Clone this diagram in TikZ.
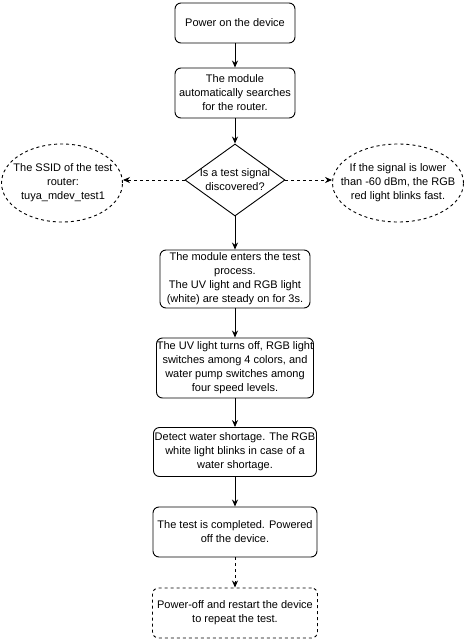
\documentclass[tikz,border=0pt]{standalone}
\usepackage{fontspec}
\setmainfont{Liberation Sans}
\usetikzlibrary{shapes.geometric,arrows.meta}
\begin{document}
\begin{tikzpicture}[x=1pt,y=-1pt,
  every node/.style={font=\fontsize{11}{14}\selectfont, align=center, inner sep=0pt},
  procbox/.style={draw, rounded corners=6pt, line width=0.9pt},
  dashbox/.style={draw, rounded corners=6pt, line width=0.9pt, dashed},
  note/.style={draw, ellipse, dashed, line width=0.9pt, minimum height=78pt},
  dec/.style={draw, diamond, line width=0.9pt, minimum width=100pt, minimum height=72pt},
  arr/.style={-{Stealth[length=7pt,width=6pt]}, line width=0.9pt},
  darr/.style={arr, dashed}]
\useasboundingbox (0,0) rectangle (465,640);
\node[procbox, minimum width=120pt, minimum height=40pt] (b1) at (235,23) {Power on the device};
\node[procbox, minimum width=120pt, minimum height=50pt] (b2) at (235,93) {The module\\automatically searches\\for the router.};
\node[dec] (d) at (235,180) {};
\node (dt) at (235,180) {Is a test signal\\discovered?};
\node[note, minimum width=121pt] (l) at (62,183) {};
\node (lt) at (63,183) {The SSID of the test\\router:\\tuya\_mdev\_test1};
\node[note, minimum width=131pt] (r) at (398,183) {};
\node (rt) at (398,183) {If the signal is lower\\than -60 dBm, the RGB\\red light blinks fast.};
\node[procbox, minimum width=150pt, minimum height=58pt] (b3) at (235,279) {The module enters the test\\process.\\The UV light and RGB light\\(white) are steady on for 3s.};
\node[procbox, minimum width=157pt, minimum height=60pt] (b4) at (235,368) {The UV light turns off, RGB light\\switches among 4 colors, and\\water pump switches among\\four speed levels.};
\node[procbox, minimum width=163pt, minimum height=49pt] (b5) at (235,452) {Detect water shortage. The RGB\\white light blinks in case of a\\water shortage.};
\node[procbox, minimum width=164pt, minimum height=50pt] (b6) at (235,532) {The test is completed. Powered\\off the device.};
\node[dashbox, minimum width=165pt, minimum height=50pt] (b7) at (235,613) {Power-off and restart the device\\to repeat the test.};
\draw[arr] (b1) -- (b2);
\draw[arr] (b2) -- (d.north);
\draw[darr] (d.west) -- (d.west -| l.east);
\draw[darr] (d.east) -- (d.east -| r.west);
\draw[arr] (d.south) -- (b3);
\draw[arr] (b3) -- (b4);
\draw[arr] (b4) -- (b5);
\draw[arr] (b5) -- (b6);
\draw[darr] (b6) -- (b7);
\end{tikzpicture}
\end{document}
